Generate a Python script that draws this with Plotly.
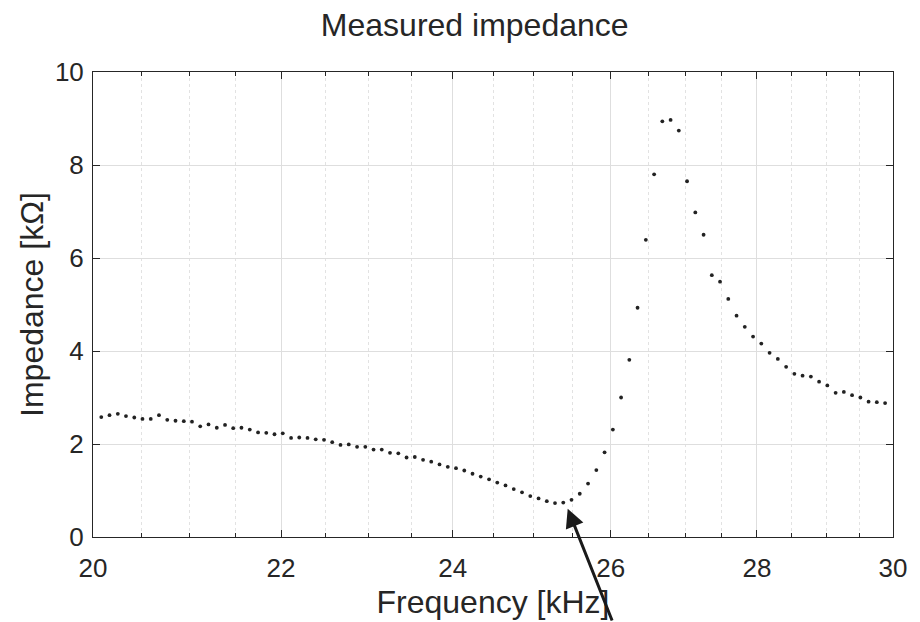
import math
import plotly.graph_objects as go

# Frequency samples [kHz] (log-spaced measurement grid)
freq_khz = [
    20.000, 20.084, 20.168, 20.253, 20.337, 20.423, 20.508, 20.594, 20.680, 20.767,
    20.854, 20.942, 21.029, 21.117, 21.206, 21.295, 21.384, 21.473, 21.563, 21.654,
    21.745, 21.836, 21.927, 22.019, 22.112, 22.204, 22.297, 22.390, 22.484, 22.578,
    22.673, 22.768, 22.864, 22.960, 23.056, 23.152, 23.249, 23.347, 23.445, 23.543,
    23.642, 23.740, 23.840, 23.940, 24.040, 24.141, 24.242, 24.343, 24.446, 24.548,
    24.651, 24.754, 24.858, 24.962, 25.067, 25.172, 25.277, 25.383, 25.489, 25.596,
    25.704, 25.812, 25.920, 26.029, 26.138, 26.247, 26.357, 26.468, 26.579, 26.690,
    26.802, 26.914, 27.027, 27.140, 27.254, 27.368, 27.482, 27.597, 27.713, 27.829,
    27.946, 28.063, 28.181, 28.299, 28.418, 28.537, 28.656, 28.777, 28.897, 29.018,
    29.140, 29.262, 29.384, 29.508, 29.631, 29.755, 29.880,
]

# Impedance magnitude [kOhm]
impedance_kohm = [
    2.69, 2.58, 2.62, 2.65, 2.60, 2.57, 2.54, 2.54, 2.62, 2.52,
    2.50, 2.49, 2.48, 2.38, 2.42, 2.35, 2.41, 2.34, 2.35, 2.31,
    2.25, 2.24, 2.21, 2.23, 2.13, 2.14, 2.13, 2.10, 2.09, 2.04,
    1.98, 1.99, 1.94, 1.94, 1.88, 1.88, 1.81, 1.80, 1.71, 1.72,
    1.66, 1.62, 1.56, 1.51, 1.48, 1.43, 1.36, 1.30, 1.24, 1.17,
    1.11, 1.03, 0.96, 0.88, 0.83, 0.77, 0.73, 0.74, 0.80, 0.93,
    1.15, 1.44, 1.82, 2.31, 3.00, 3.81, 4.93, 6.39, 7.80, 8.94,
    8.97, 8.74, 7.65, 6.98, 6.50, 5.63, 5.49, 5.12, 4.76, 4.52,
    4.31, 4.16, 3.96, 3.83, 3.66, 3.51, 3.47, 3.45, 3.34, 3.26,
    3.10, 3.12, 3.05, 3.00, 2.91, 2.90, 2.88,
]

x_range_khz = [20, 30]
x_major_ticks = [20, 22, 24, 26, 28, 30]
x_minor_ticks = [20.5, 21, 21.5, 22.5, 23, 23.5, 24.5, 25, 25.5,
                 26.5, 27, 27.5, 28.5, 29, 29.5]
y_range = [0, 10]
y_ticks = [0, 2, 4, 6, 8, 10]

# Arrow target (data coords) and tail offset (pixels)
arrow_tip_khz = 25.44
arrow_tip_kohm = 0.61

TXT = "#262626"
FONT = "Liberation Sans, Arial, Helvetica, sans-serif"

fig = go.Figure()
fig.add_trace(go.Scatter(
    x=freq_khz, y=impedance_kohm, mode="markers",
    marker=dict(size=3.8, color="#222222", symbol="circle"),
    cliponaxis=False, showlegend=False,
))

fig.add_annotation(
    x=math.log10(arrow_tip_khz), y=arrow_tip_kohm, xref="x", yref="y",
    ax=45, ay=120, axref="pixel", ayref="pixel",
    showarrow=True, arrowhead=2, arrowsize=1.25, arrowwidth=3,
    arrowcolor="#1a1a1a", text="",
)

fig.update_layout(
    width=920, height=622,
    paper_bgcolor="white", plot_bgcolor="white",
    margin=dict(l=93, r=27, t=72, b=85),
    font=dict(family=FONT, color=TXT, size=26),
    title=dict(text="Measured impedance", x=0.516, xanchor="center",
               y=0.96, yanchor="middle",
               font=dict(family=FONT, size=32, color=TXT)),
    xaxis=dict(
        type="log", range=[math.log10(x_range_khz[0]), math.log10(x_range_khz[1])],
        tickmode="array", tickvals=x_major_ticks,
        ticktext=[str(v) for v in x_major_ticks],
        showline=True, linecolor=TXT, linewidth=1, mirror="ticks",
        ticks="inside", ticklen=7, tickcolor=TXT, tickwidth=1,
        showgrid=True, gridcolor="#dedede", gridwidth=1,
        zeroline=False, ticklabelstandoff=8, automargin=False,
        tickfont=dict(size=26, color=TXT),
        title=dict(text="Frequency [kHz]", font=dict(size=32, color=TXT), standoff=8),
        minor=dict(tickmode="array", tickvals=x_minor_ticks, ticks="inside",
                   ticklen=4, tickcolor=TXT, showgrid=True,
                   gridcolor="#e2e2e2", griddash="dot", gridwidth=1),
    ),
    yaxis=dict(
        range=y_range, tickmode="array", tickvals=y_ticks,
        showline=True, linecolor=TXT, linewidth=1, mirror="ticks",
        ticks="inside", ticklen=7, tickcolor=TXT, tickwidth=1,
        showgrid=True, gridcolor="#dedede", gridwidth=1,
        zeroline=False, ticklabelstandoff=3, automargin=False,
        tickfont=dict(size=26, color=TXT),
        title=dict(text="Impedance [kΩ]", font=dict(size=32, color=TXT), standoff=1),
    ),
)

fig.write_html("out.html", config={"displayModeBar": False},
               post_script="document.body.style.margin='0';")
